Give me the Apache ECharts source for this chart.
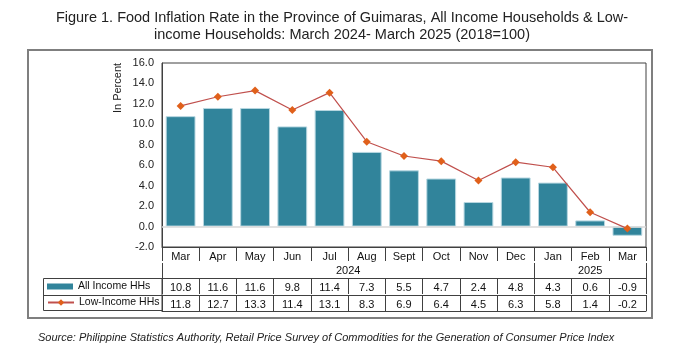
<!DOCTYPE html>
<html><head><meta charset="utf-8">
<script src="https://cdn.jsdelivr.net/npm/echarts@6/dist/echarts.min.js"></script>
<style>html,body{margin:0;padding:0;background:#fff}#c{width:684px;height:364px}</style>
</head><body><div id="c"></div>
<script>
const months = ['Mar','Apr','May','Jun','Jul','Aug','Sept','Oct','Nov','Dec','Jan','Feb','Mar'];
const yearLabels = ['2024','2025'];
const allIncome = [10.8, 11.6, 11.6, 9.8, 11.4, 7.3, 5.5, 4.7, 2.4, 4.8, 4.3, 0.6, -0.9];
const lowIncome = [11.8, 12.7, 13.3, 11.4, 13.1, 8.3, 6.9, 6.4, 4.5, 6.3, 5.8, 1.4, -0.2];
const yTicks = [-2, 0, 2, 4, 6, 8, 10, 12, 14, 16];
const seriesNames = ['All Income HHs', 'Low-Income HHs'];

const FONT = 'Liberation Sans, Arial, sans-serif';
const LINE = '#404040';
const idx = months.map((m, i) => String(i));

const chart = echarts.init(document.getElementById('c'), null, {renderer: 'canvas'});
const tableAxis = (vals, offset) => ({
  type: 'category', position: 'bottom', gridIndex: 0, offset: offset, data: idx,
  axisLine: {show: true, onZero: false, lineStyle: {color: LINE, width: 1}},
  axisTick: {show: true, interval: 0, length: 16, lineStyle: {color: LINE}},
  axisLabel: {interval: 0, margin: 4, fontSize: 11, fontFamily: FONT, color: '#111',
    formatter: (v, i) => vals[i].toFixed(1)},
  splitLine: {show: false}
});

chart.setOption({
  animation: false,
  title: [
    {text: 'Figure 1. Food Inflation Rate in the Province of Guimaras, All Income Households & Low-', left: 'center', top: 5,
     textStyle: {fontSize: 14.5, fontWeight: 'normal', fontFamily: FONT, color: '#222'}},
    {text: 'income Households: March 2024- March 2025 (2018=100)', left: 'center', top: 22,
     textStyle: {fontSize: 14.5, fontWeight: 'normal', fontFamily: FONT, color: '#222'}},
    {text: 'Source: Philippine Statistics Authority, Retail Price Survey of Commodities for the Generation of Consumer Price Index',
     left: 33, top: 327, textStyle: {fontSize: 11, fontStyle: 'italic', fontWeight: 'normal', fontFamily: FONT, color: '#222'}}
  ],
  legend: [
    {data: [seriesNames[0]], left: 47, top: 281, padding: 0, itemWidth: 26, itemHeight: 6, icon: 'rect',
     itemStyle: {borderWidth: 0},
     textStyle: {fontSize: 10.5, fontFamily: FONT, color: '#111'}},
    {data: [seriesNames[1]], left: 47, top: 297, padding: 0, itemWidth: 26, itemHeight: 8,
     textStyle: {fontSize: 10.5, fontFamily: FONT, color: '#111'}}
  ],
  grid: {left: 162, top: 63, width: 484, height: 184, show: true, borderColor: LINE, borderWidth: 1, containLabel: false},
  xAxis: [
    {type: 'category', position: 'bottom', data: months,
     axisLine: {show: true, onZero: false, lineStyle: {color: LINE}},
     axisTick: {show: true, interval: 0, length: 14, lineStyle: {color: LINE}},
     axisLabel: {interval: 0, margin: 4, fontSize: 11, fontFamily: FONT, color: '#111'},
     splitLine: {show: false}},
    {type: 'value', position: 'bottom', offset: 16, min: 0, max: months.length,
     axisLine: {show: false, onZero: false},
     axisTick: {show: true, customValues: [0, 10, months.length], length: 15, lineStyle: {color: LINE}},
     axisLabel: {customValues: [5, 11.5], margin: 2, fontSize: 11, fontFamily: FONT, color: '#111',
       formatter: v => v < 10 ? yearLabels[0] : yearLabels[1]},
     splitLine: {show: false}},
    tableAxis(allIncome, 31),
    tableAxis(lowIncome, 48),
    {type: 'category', position: 'bottom', offset: 64, data: idx,
     axisLine: {show: true, onZero: false, lineStyle: {color: LINE}}, axisTick: {show: false}, axisLabel: {show: false}, splitLine: {show: false}}
  ],
  yAxis: {
    type: 'value', min: yTicks[0], max: yTicks[yTicks.length - 1], interval: 2,
    axisLine: {show: true, onZero: false, lineStyle: {color: LINE}},
    axisTick: {show: false},
    splitLine: {show: false},
    axisLabel: {fontSize: 11, fontFamily: FONT, color: '#222', margin: 8, formatter: v => v.toFixed(1)}
  },
  graphic: [
    {type: 'rect', shape: {x: 28, y: 50, width: 624, height: 268}, style: {fill: 'none', stroke: '#7f7f7f', lineWidth: 2}, silent: true},
    {type: 'rect', shape: {x: 43.5, y: 278.5, width: 118.5, height: 32}, style: {fill: 'none', stroke: LINE, lineWidth: 1}, silent: true},
    {type: 'line', shape: {x1: 43.5, y1: 295.5, x2: 162, y2: 295.5}, style: {stroke: LINE, lineWidth: 1}, silent: true},
    {type: 'text', x: 118, y: 88, rotation: Math.PI / 2,
     style: {text: 'In Percent', fontSize: 11, fontFamily: FONT, fill: '#222', align: 'center', verticalAlign: 'middle'}, silent: true}
  ],
  series: [
    {name: seriesNames[0], type: 'bar', xAxisIndex: 0, data: allIncome, barCategoryGap: '20%',
     itemStyle: {color: '#31849B', borderColor: '#b7d7e1', borderWidth: 1},
     markLine: {silent: true, symbol: 'none', label: {show: false}, lineStyle: {color: '#d9d9d9', width: 1.5, type: 'solid'},
       data: [{yAxis: 0}]}},
    {name: seriesNames[1], type: 'line', xAxisIndex: 0, data: lowIncome, symbol: 'diamond', symbolSize: 8,
     lineStyle: {color: '#C0504D', width: 1.2}, itemStyle: {color: '#E0601B'}, z: 5}
  ]
});
</script></body></html>
